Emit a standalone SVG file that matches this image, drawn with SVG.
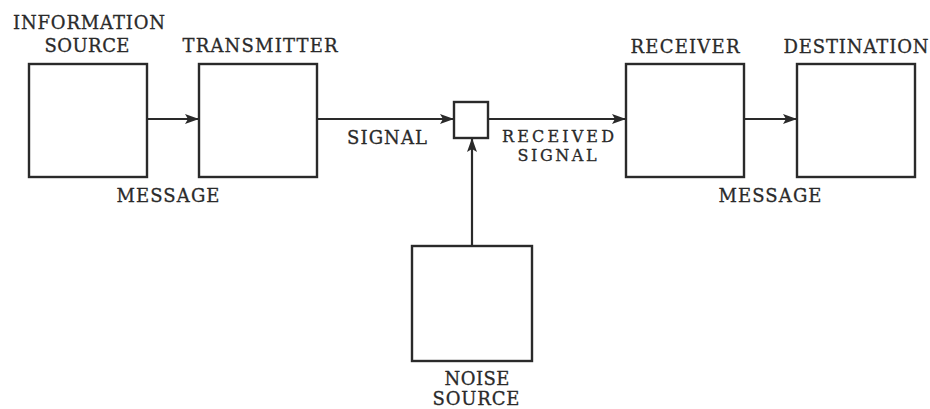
<svg xmlns="http://www.w3.org/2000/svg" width="930" height="409" viewBox="0 0 930 409">
<style>
.box{fill:#fff;stroke:#2a2a2a;stroke-width:2.4}
.lbl{font-family:"DejaVu Serif","Liberation Serif",serif;font-size:18px;fill:#2a2a2a;text-anchor:middle;stroke:#2a2a2a;stroke-width:0.3}
.con{stroke:#2a2a2a;stroke-width:2.2;fill:none}
</style>
<defs>
<marker id="ah" viewBox="0 0 14 10" refX="14" refY="5" markerWidth="14" markerHeight="10" markerUnits="userSpaceOnUse" orient="auto">
<path d="M0,0 L14,5 L0,10 L3,5 Z" fill="#2a2a2a"/>
</marker>
</defs>
<rect width="930" height="409" fill="#fff"/>
<g id="connectors">
<line class="con" x1="147" y1="119" x2="199" y2="119" marker-end="url(#ah)"/>
<line class="con" x1="317" y1="119" x2="454" y2="119" marker-end="url(#ah)"/>
<line class="con" x1="488" y1="119" x2="626" y2="119" marker-end="url(#ah)"/>
<line class="con" x1="744" y1="119" x2="797" y2="119" marker-end="url(#ah)"/>
<line class="con" x1="472" y1="246" x2="472" y2="138" marker-end="url(#ah)"/>
<text class="lbl" x="168" y="202" textLength="103">MESSAGE</text>
<text class="lbl" x="387" y="144" textLength="80">SIGNAL</text>
<text class="lbl" x="558" y="142" textLength="112" style="font-size:16px">RECEIVED</text>
<text class="lbl" x="557" y="161" textLength="79" style="font-size:16px">SIGNAL</text>
<text class="lbl" x="770" y="202" textLength="103">MESSAGE</text>
</g>
<g id="information-source">
<rect class="box" x="29" y="64" width="118" height="113"/>
<text class="lbl" x="89" y="29" textLength="152">INFORMATION</text>
<text class="lbl" x="87" y="52" textLength="85">SOURCE</text>
</g>
<g id="transmitter">
<rect class="box" x="199" y="64" width="118" height="113"/>
<text class="lbl" x="260" y="52" textLength="155">TRANSMITTER</text>
</g>
<g id="adder">
<rect class="box" x="454" y="102" width="34" height="36"/>
</g>
<g id="receiver">
<rect class="box" x="626" y="64" width="118" height="113"/>
<text class="lbl" x="685" y="53" textLength="109">RECEIVER</text>
</g>
<g id="destination">
<rect class="box" x="797" y="64" width="118" height="113"/>
<text class="lbl" x="856" y="53" textLength="145">DESTINATION</text>
</g>
<g id="noise-source">
<rect class="box" x="412" y="246" width="120" height="115"/>
<text class="lbl" x="477" y="385" textLength="65">NOISE</text>
<text class="lbl" x="476" y="405" textLength="87">SOURCE</text>
</g>
</svg>
